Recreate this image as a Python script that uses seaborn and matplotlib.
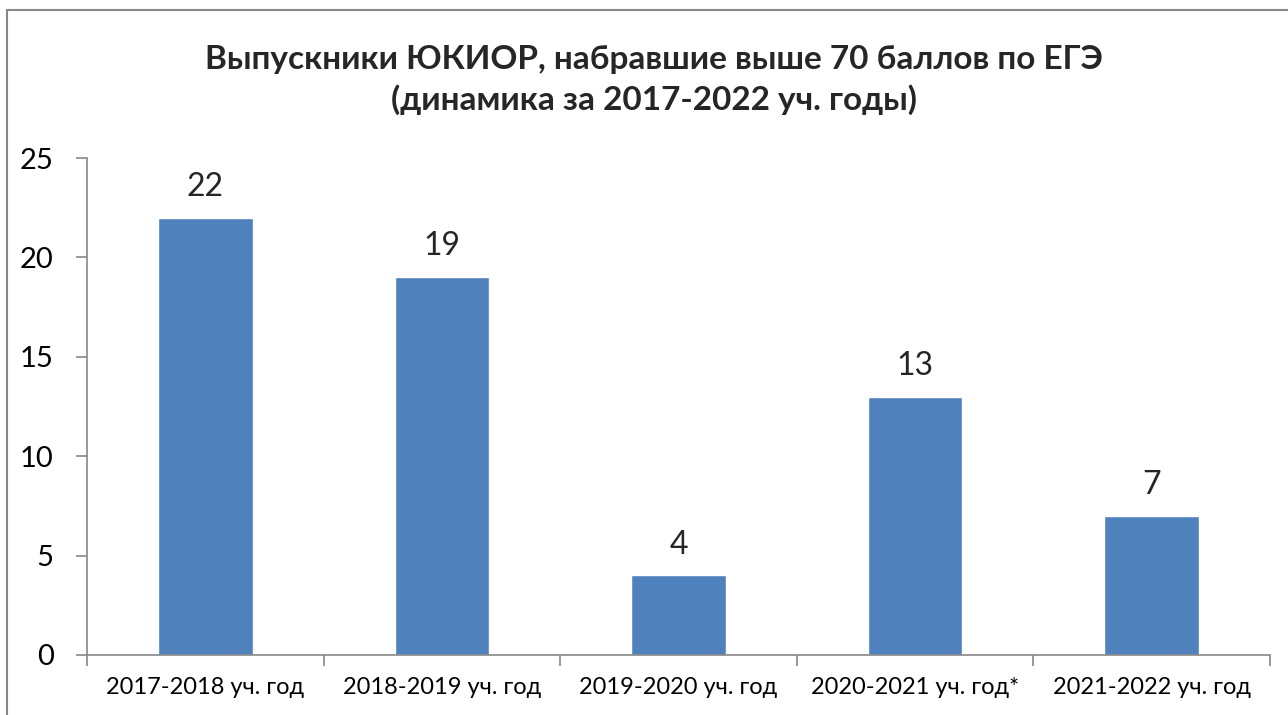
import matplotlib.pyplot as plt
import matplotlib.patches as mpatches
import numpy as np
import pandas as pd
import seaborn as sns

categories = ['2017-2018 уч. год', '2018-2019 уч. год', '2019-2020 уч. год',
              '2020-2021 уч. год*', '2021-2022 уч. год']
values = [22, 19, 4, 13, 7]
title = 'Выпускники ЮКИОР, набравшие выше 70 баллов по ЕГЭ\n(динамика за 2017-2022 уч. годы)'

sns.set_theme(style='white')
plt.rcParams['font.family'] = ['Lato', 'DejaVu Sans']

df = pd.DataFrame({'year': categories, 'count': values})

fig = plt.figure(figsize=(12.88, 7.15), dpi=100)
ax = fig.add_axes([0.0675, 0.084, 0.9185, 0.695])
sns.barplot(data=df, x='year', y='count', color='#4F81BD', saturation=1,
            width=0.4, ax=ax)

ax.set_ylim(0, 25)
ax.set_xlim(-0.5, len(categories) - 0.5)
ax.set_yticks(np.arange(0, 26, 5))
ax.set_xlabel('')
ax.set_ylabel('')
ax.tick_params(axis='y', labelsize=21, length=8, width=1.2, color='#888888',
               direction='out', left=True, pad=16, labelcolor='black')
ax.tick_params(axis='x', which='major', labelsize=17, length=0, pad=16,
               labelcolor='black')
ax.set_xticks(np.arange(-0.5, len(categories)), minor=True)
ax.tick_params(axis='x', which='minor', length=8, width=1.2, color='#888888',
               direction='out', bottom=True)

for s in ['top', 'right']:
    ax.spines[s].set_visible(False)
for s in ['left', 'bottom']:
    ax.spines[s].set_color('#888888')
    ax.spines[s].set_linewidth(1.2)

for i, v in enumerate(values):
    ax.text(i, v + 0.8, str(v), ha='center', va='bottom', fontsize=23)

fig.text(0.508, 0.888, title, ha='center', va='center', fontsize=24,
         fontweight='bold', linespacing=1.4)

fig.patches.append(mpatches.Rectangle((7 / 1288, -0.05), 1.1, 1 - 10 / 715 + 0.05,
                                      transform=fig.transFigure, fill=False,
                                      edgecolor='#888888', linewidth=1.5))

fig.savefig('out.png', dpi=100)
